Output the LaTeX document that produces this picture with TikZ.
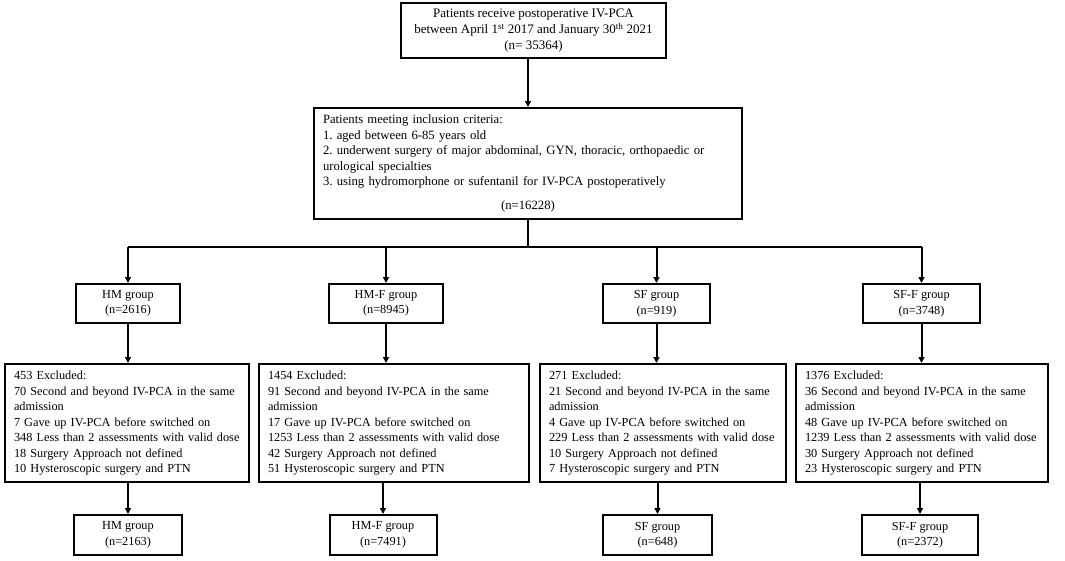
\documentclass[tikz,border=0pt]{standalone}
\usepackage{fontspec}
\setmainfont{Liberation Serif}
\usetikzlibrary{arrows.meta}
\frenchspacing
\begin{document}
\begin{tikzpicture}[x=1pt,y=-1pt,
  every node/.style={font=\fontsize{12.3}{15.5}\selectfont},
  box/.style={draw,line width=2pt,inner sep=0pt,align=center},
  exbox/.style={draw,line width=2pt,inner xsep=9pt,inner ysep=0pt,align=left,minimum height=118pt},
  arr/.style={line width=2pt,-{Triangle[length=6pt,width=6pt]}},
  ln/.style={line width=2pt}]
\useasboundingbox (0,0) rectangle (1065,560);
\node[box,minimum width=265pt,minimum height=55pt,font=\fontsize{13}{16}\selectfont] (top) at (533.5,30.5)
  {Patients receive postoperative IV-PCA\\between April 1\textsuperscript{st} 2017 and January 30\textsuperscript{th} 2021\\(n= 35364)};
\node[box,align=left,inner xsep=9pt,text width=410pt,minimum height=111pt,font=\fontsize{12.7}{15.6}\selectfont] (sec) at (528,163.5)
  {Patients meeting inclusion criteria:\\
   1. aged between 6-85 years old\\
   2. underwent surgery of major abdominal, GYN, thoracic, orthopaedic or\\
   urological specialties\\
   3. using hydromorphone or sufentanil for IV-PCA postoperatively\\[8pt]
   \makebox[\linewidth][c]{(n=16228)}};
\node[box,minimum width=104pt,minimum height=39pt] (g1) at (128,303.5) {HM group\\(n=2616)};
\node[box,minimum width=114pt,minimum height=39pt] (g2) at (386,303.5) {HM-F group\\(n=8945)};
\node[box,minimum width=107pt,minimum height=39pt] (g3) at (656.5,303.5) {SF group\\(n=919)};
\node[box,minimum width=117pt,minimum height=39pt] (g4) at (921.5,303.5) {SF-F group\\(n=3748)};
\node[exbox,text width=226pt] (e1) at (127,423)
  {\begin{tabular}{@{}l@{}}453 Excluded:\\70 Second and beyond IV-PCA in the same\\admission\\7 Gave up IV-PCA before switched on\\348 Less than 2 assessments with valid dose\\18 Surgery Approach not defined\\10 Hysteroscopic surgery and PTN\end{tabular}};
\node[exbox,text width=252pt] (e2) at (394,423)
  {\begin{tabular}{@{}l@{}}1454 Excluded:\\91 Second and beyond IV-PCA in the same\\admission\\17 Gave up IV-PCA before switched on\\1253 Less than 2 assessments with valid dose\\42 Surgery Approach not defined\\51 Hysteroscopic surgery and PTN\end{tabular}};
\node[exbox,text width=228pt] (e3) at (663,423)
  {\begin{tabular}{@{}l@{}}271 Excluded:\\21 Second and beyond IV-PCA in the same\\admission\\4 Gave up IV-PCA before switched on\\229 Less than 2 assessments with valid dose\\10 Surgery Approach not defined\\7 Hysteroscopic surgery and PTN\end{tabular}};
\node[exbox,text width=234pt] (e4) at (922,423)
  {\begin{tabular}{@{}l@{}}1376 Excluded:\\36 Second and beyond IV-PCA in the same\\admission\\48 Gave up IV-PCA before switched on\\1239 Less than 2 assessments with valid dose\\30 Surgery Approach not defined\\23 Hysteroscopic surgery and PTN\end{tabular}};
\node[box,minimum width=108pt,minimum height=40pt] (b1) at (128,535) {HM group\\(n=2163)};
\node[box,minimum width=107pt,minimum height=40pt] (b2) at (383,535) {HM-F group\\(n=7491)};
\node[box,minimum width=109pt,minimum height=40pt] (b3) at (657.5,535) {SF group\\(n=648)};
\node[box,minimum width=116pt,minimum height=40pt] (b4) at (920,535) {SF-F group\\(n=2372)};
\coordinate (split) at (528,247);
\draw[arr] (sec.north |- top.south) -- (sec.north);
\draw[ln] (sec.south) -- (split);
\draw[ln] (g1.north |- split) -- (g4.north |- split);
\foreach \g in {g1,g2,g3,g4} \draw[arr] (\g.north |- split) -- (\g.north);
\draw[arr] (g1.south) -- (g1.south |- e1.north);
\draw[arr] (g2.south) -- (g2.south |- e2.north);
\draw[arr] (g3.south) -- (g3.south |- e3.north);
\draw[arr] (g4.south) -- (g4.south |- e4.north);
\draw[arr] (b1.north |- e1.south) -- (b1.north);
\draw[arr] (b2.north |- e2.south) -- (b2.north);
\draw[arr] (b3.north |- e3.south) -- (b3.north);
\draw[arr] (b4.north |- e4.south) -- (b4.north);
\end{tikzpicture}
\end{document}
